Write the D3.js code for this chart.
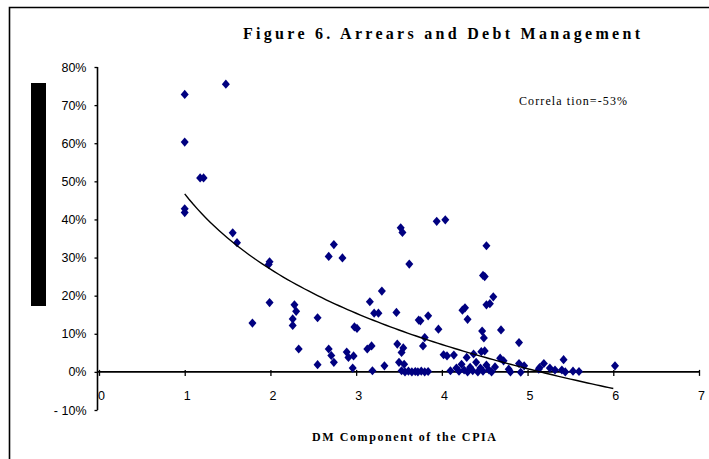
<!DOCTYPE html>
<html>
<head>
<meta charset="utf-8">
<script src="https://cdn.jsdelivr.net/npm/d3@7"></script>
<style>
  html, body { margin: 0; padding: 0; background: #fff; }
  svg { display: block; }
</style>
</head>
<body>
<script>
// DM component of the CPIA (x) against arrears share (y, fraction)
const cpiaScores = [
  1.00, 1.48, 1.00, 1.18, 1.22, 1.00, 1.00, 1.56, 1.61, 1.98, 1.99, 1.99, 1.79,
  2.28, 2.30, 2.26, 2.26, 2.33, 2.55, 2.55, 2.68, 2.74, 2.84, 2.68, 2.71, 2.74,
  2.89, 2.91, 2.97, 2.96, 2.98, 3.01, 3.13, 3.18, 3.19, 3.16, 3.21, 3.26, 3.30,
  3.33, 3.47, 3.48, 3.52, 3.54, 3.55, 3.53, 3.50, 3.56, 3.62, 3.73, 3.75, 3.84,
  3.78, 3.80, 3.96, 3.94, 4.04,
  3.53, 3.57, 3.61, 3.65, 3.69, 3.72, 3.76, 3.80, 3.84,
  4.02, 4.06, 4.14, 4.10, 4.24, 4.27, 4.30, 4.37, 4.29, 4.48, 4.50, 4.52, 4.60,
  4.52, 4.56, 4.47, 4.69, 4.49, 4.90, 4.50, 4.46, 4.68, 4.72, 4.90, 4.96,
  4.17, 4.20, 4.23, 4.26, 4.30, 4.33, 4.36, 4.40, 4.42, 4.45, 4.48, 4.52, 4.55,
  4.58, 4.62,
  4.78, 4.80, 4.92, 5.13, 5.19, 5.42, 5.26, 5.32, 5.40, 5.44, 5.53, 5.60, 6.02, 5.14
];
const arrearsShare = [
  0.728, 0.755, 0.603, 0.509, 0.509, 0.418, 0.428, 0.365, 0.339, 0.282, 0.289, 0.182, 0.128,
  0.176, 0.159, 0.139, 0.122, 0.060, 0.142, 0.019, 0.303, 0.334, 0.299, 0.060, 0.043, 0.025,
  0.052, 0.038, 0.042, 0.010, 0.118, 0.114, 0.060, 0.068, 0.003, 0.184, 0.154, 0.154, 0.212,
  0.016, 0.156, 0.073, 0.378, 0.366, 0.063, 0.051, 0.025, 0.020, 0.283, 0.136, 0.134, 0.147,
  0.068, 0.090, 0.112, 0.395, 0.399,
  0.003, 0.000, 0.002, 0.000, 0.001, 0.000, 0.002, 0.000, 0.001,
  0.045, 0.042, 0.044, 0.003, 0.162, 0.168, 0.138, 0.047, 0.038, 0.253, 0.250, 0.331, 0.197,
  0.176, 0.179, 0.107, 0.110, 0.089, 0.077, 0.055, 0.053, 0.036, 0.029, 0.022, 0.016,
  0.010, 0.002, 0.020, 0.005, 0.000, 0.012, 0.003, 0.025, 0.000, 0.010, 0.002, 0.018, 0.005,
  0.000, 0.013,
  0.007, 0.000, -0.001, 0.007, 0.022, 0.032, 0.010, 0.005, 0.005, 0.000, 0.002, 0.001, 0.016, 0.011
];

// Logarithmic trend: y = a + b * ln(x), drawn over this x span
const trendIntercept = 0.467;
const trendSlope = -0.285;
const trendRange = [1, 6];

const xTicks = [0, 1, 2, 3, 4, 5, 6, 7];
const yTicks = [-0.1, 0, 0.1, 0.2, 0.3, 0.4, 0.5, 0.6, 0.7, 0.8];

const chartTitle = "Figure 6. Arrears and Debt Management";
const xTitle = "DM Component of the CPIA";
const corrNote = "Correla tion=-53%";

const W = 709, H = 459;
const svg = d3.select("body").append("svg").attr("width", W).attr("height", H);

// outer frame (left and top edges visible)
svg.append("path")
  .attr("d", "M9.5,459 L9.5,7.5 L709,7.5")
  .attr("fill", "none").attr("stroke", "#000").attr("stroke-width", 1.6);

const x = d3.scaleLinear().domain([0, 7]).range([99, 699]);
const y = d3.scaleLinear().domain([-0.1, 0.8]).range([410, 67]);

// y-axis title block
svg.append("rect")
  .attr("x", 31).attr("y", 83).attr("width", 15).attr("height", 223)
  .attr("fill", "#000");

// y axis
const yAxis = svg.append("g")
  .attr("transform", `translate(${x(0) - 1.5},0)`)
  .call(d3.axisLeft(y).tickValues(yTicks).tickSize(3).tickPadding(8)
    .tickFormat(v => {
      const p = Math.round(v * 100);
      return p < 0 ? "- " + Math.abs(p) + "%" : p + "%";
    }));
yAxis.select(".domain").attr("stroke", "#000").attr("stroke-width", 1.6)
  .attr("d", `M0,${y(0.8)}V${y(-0.1)}`);
yAxis.selectAll(".tick line").attr("stroke", "#000").attr("stroke-width", 1.3);
yAxis.selectAll("text")
  .attr("font-family", "'Liberation Sans', Arial, sans-serif")
  .attr("font-size", 12.5).attr("fill", "#000");

// x axis, crossing at y = 0
const xAxis = svg.append("g")
  .attr("transform", `translate(0,${y(0)})`)
  .call(d3.axisBottom(x).tickValues(xTicks).tickSize(4).tickFormat(d3.format("d")));
xAxis.select(".domain").attr("stroke", "#000").attr("stroke-width", 1.6)
  .attr("d", `M${x(0) - 2},0H${x(7)}`);
xAxis.selectAll(".tick line").attr("stroke", "#000").attr("stroke-width", 1.3)
  .attr("y1", -2).attr("y2", 4);
xAxis.selectAll("text")
  .attr("font-family", "'Liberation Sans', Arial, sans-serif")
  .attr("font-size", 12.5).attr("fill", "#000")
  .attr("y", 19).attr("dx", 2);

// scatter points as diamonds
const diamond = "M0,-4.6L4,0L0,4.6L-4,0Z";
svg.append("g").selectAll("path")
  .data(d3.zip(cpiaScores, arrearsShare))
  .join("path")
  .attr("d", diamond)
  .attr("transform", d => `translate(${x(d[0])},${y(d[1])})`)
  .attr("fill", "#000080");

// trend curve
const trendXs = d3.range(trendRange[0], trendRange[1] + 0.0001, 0.05);
svg.append("path")
  .datum(trendXs)
  .attr("fill", "none").attr("stroke", "#000").attr("stroke-width", 1.4)
  .attr("d", d3.line()
    .x(v => x(v))
    .y(v => y(trendIntercept + trendSlope * Math.log(v))));

// texts
svg.append("text")
  .attr("x", 243).attr("y", 39)
  .attr("textLength", 397).attr("lengthAdjust", "spacing")
  .attr("font-family", "'Liberation Serif', 'Times New Roman', serif")
  .attr("font-weight", "bold").attr("font-size", 16)
  .text(chartTitle);

svg.append("text")
  .attr("x", 312).attr("y", 441)
  .attr("textLength", 184).attr("lengthAdjust", "spacing")
  .attr("font-family", "'Liberation Serif', 'Times New Roman', serif")
  .attr("font-weight", "bold").attr("font-size", 12)
  .text(xTitle);

svg.append("text")
  .attr("x", 519).attr("y", 105)
  .attr("textLength", 108).attr("lengthAdjust", "spacing")
  .attr("font-family", "'Liberation Serif', 'Times New Roman', serif")
  .attr("font-size", 12)
  .text(corrNote);
</script>
</body>
</html>
